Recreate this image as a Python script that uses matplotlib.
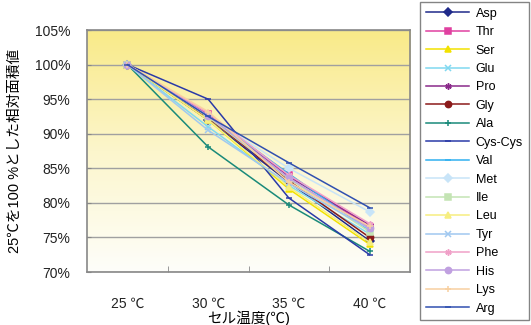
import numpy as np
import matplotlib
matplotlib.use("Agg")
import matplotlib.pyplot as plt
from matplotlib.colors import LinearSegmentedColormap

plt.rcParams['font.family'] = ['Liberation Sans', 'Noto Sans CJK JP', 'DejaVu Sans']

temps = ["25 ℃", "30 ℃", "35 ℃", "40 ℃"]

# relative area (%), 25 ℃ = 100 %
asp = [100, 92.0, 83.0, 74.5]
thr = [100, 92.8, 84.0, 76.5]
ser = [100, 92.0, 82.0, 74.0]
glu = [100, 91.0, 82.5, 75.5]
pro = [100, 92.5, 83.8, 76.8]
gly = [100, 92.3, 83.2, 75.0]
ala = [100, 88.1, 79.7, 73.0]
cys = [100, 95.0, 80.7, 72.5]
val = [100, 92.6, 84.2, 76.0]
met = [100, 92.5, 85.0, 78.7]
ile = [100, 92.4, 83.5, 75.8]
leu = [100, 92.0, 82.3, 74.3]
tyr = [100, 90.5, 82.8, 76.2]
phe = [100, 93.0, 84.0, 77.0]
his = [100, 92.6, 83.6, 76.3]
lys = [100, 93.2, 83.0, 76.6]
arg = [100, 92.5, 85.8, 79.3]

names = ["Asp", "Thr", "Ser", "Glu", "Pro", "Gly", "Ala", "Cys-Cys", "Val",
         "Met", "Ile", "Leu", "Tyr", "Phe", "His", "Lys", "Arg"]
series = [asp, thr, ser, glu, pro, gly, ala, cys, val,
          met, ile, leu, tyr, phe, his, lys, arg]

colors = ['#1f2a8a', '#e040a0', '#f2e200', '#80d8f0', '#8a2a8a', '#8b1a1a',
          '#1a8a7a', '#2a3aa8', '#30b0f0', '#c8e4f8', '#c4e4b4', '#f6ee80',
          '#a0c8f0', '#f0a0c8', '#c0a0e0', '#f8d0a0', '#3050b0']
asterisk = (6, 2, 0)
markers = ['D', 's', '^', 'x', asterisk, 'o', '+', '_', '_',
           'D', 's', '^', 'x', asterisk, 'o', '+', '_']

fig = plt.figure(figsize=(5.31, 3.25), dpi=100)
ax = fig.add_axes([87 / 531, 53 / 325, 323 / 531, 242 / 325])

# yellow-to-white background
grad = np.linspace(0, 1, 256).reshape(-1, 1)
cmap = LinearSegmentedColormap.from_list("bg", ["#fefefa", "#fcf6cc", "#f9ea88"])
ax.imshow(grad, cmap=cmap, aspect='auto', extent=[0, 1, 0, 1],
          transform=ax.transAxes, origin='lower', zorder=0)

x = np.arange(len(temps))
for name, vals, c, m in zip(names, series, colors, markers):
    ax.plot(x, vals, color=c, marker=m, markersize=4.5, linewidth=1.1,
            markeredgewidth=1.1, label=name, zorder=3)

ax.set_xlim(-0.5, len(temps) - 0.5)
ax.set_ylim(70, 105)
ax.set_yticks(np.arange(70, 106, 5))
ax.set_yticklabels([f"{v}%" for v in range(70, 106, 5)], fontsize=10, color='#222222')
ax.set_xticks(x)
ax.set_xticklabels(temps, fontsize=10, color='#222222')
ax.set_xticks(np.arange(0.5, len(temps) - 0.5), minor=True)
ax.tick_params(axis='x', which='major', length=0, pad=18)
ax.tick_params(axis='x', which='minor', direction='in', length=4, color='#888888')
ax.tick_params(axis='y', direction='in', length=3, color='#888888', pad=12)
ax.grid(axis='y', color='#a0a0a0', linewidth=1.0, zorder=1)
ax.set_axisbelow(True)
for s in ax.spines.values():
    s.set_color('#888888')
    s.set_linewidth(1.2)

ax.set_xlabel("セル温度(℃)", fontsize=10.5, labelpad=0)
ax.set_ylabel("25℃を100 %とした相対面積値", fontsize=10.5, labelpad=9)

leg = fig.legend(loc='upper left', bbox_to_anchor=(420 / 531, 1 - 2 / 325),
                 fontsize=9, frameon=True, fancybox=False, handlelength=3.5,
                 labelspacing=0.515, borderpad=0.45, handletextpad=0.5,
                 borderaxespad=0)
leg.get_frame().set_edgecolor('#666666')
leg.get_frame().set_linewidth(1.0)

fig.savefig("out.png", dpi=100)
